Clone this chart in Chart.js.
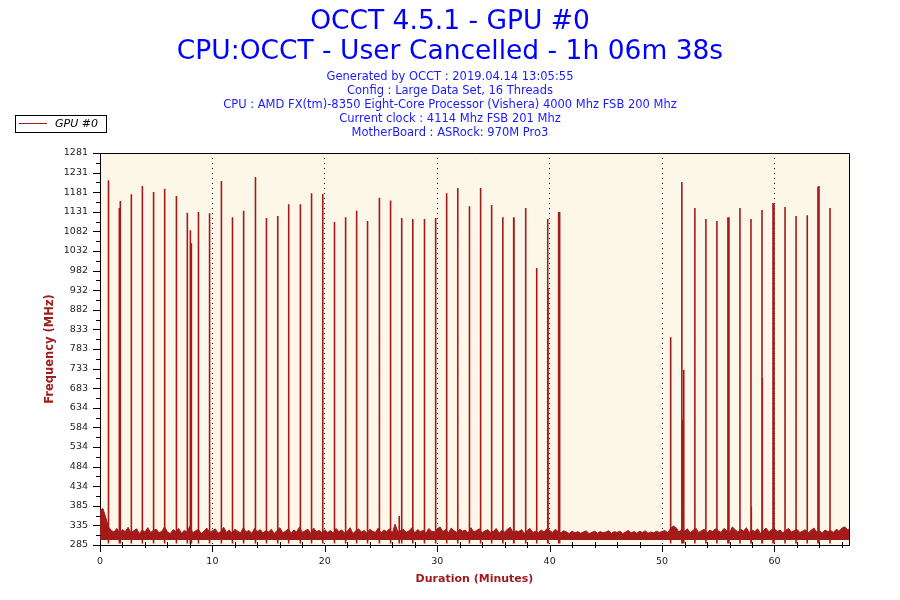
<!DOCTYPE html>
<html>
<head>
<meta charset="utf-8">
<title>OCCT 4.5.1 - GPU #0</title>
<script src="https://cdn.jsdelivr.net/npm/chart.js@4.4.1/dist/chart.umd.min.js"></script>
<style>
    html, body { margin: 0; padding: 0; background: #fff; }
    #wrap { width: 900px; height: 600px; }
</style>
</head>
<body>
<div id="wrap"><canvas id="gpuChart"></canvas></div>
<script>
const titleLines = ['OCCT 4.5.1 - GPU #0', 'CPU:OCCT - User Cancelled - 1h 06m 38s'];
const infoLines = [
    'Generated by OCCT : 2019.04.14 13:05:55',
    'Config : Large Data Set, 16 Threads',
    'CPU : AMD FX(tm)-8350 Eight-Core Processor (Vishera) 4000 Mhz FSB 200 Mhz',
    'Current clock : 4114 Mhz FSB 201 Mhz',
    'MotherBoard : ASRock: 970M Pro3'
];
const seriesName = 'GPU #0';

const durationMinutes = 66.63;
const yMin = 285;
const yMax = 1281;
const yTickLabels = ['285', '335', '385', '434', '484', '534', '584', '634', '683', '733', '783',
    '833', '882', '932', '982', '1032', '1082', '1131', '1181', '1231', '1281'];
const xTickLabels = [0, 10, 20, 30, 40, 50, 60];

// idle clock: the noisy band sits on ~298 MHz, upper edge read every 15 s
const noiseStep = 0.25;
const noiseFloor = 298;
const noiseTop = [
    372, 378, 356, 331, 322, 318, 327, 315, 324, 319, 330, 316, 321, 326, 314, 323, 318, 329, 317, 322,
    325, 316, 320, 331, 318, 314, 324, 319, 327, 315, 322, 318, 333, 316, 321, 325, 314, 320, 328, 317,
    321, 326, 315, 319, 330, 317, 323, 314, 325, 320, 316, 329, 318, 322, 315, 327, 319, 324, 316, 321,
    318, 325, 314, 322, 329, 316, 320, 326, 315, 323, 318, 331, 317, 321, 325, 314, 328, 319, 322, 316,
    324, 317, 322, 315, 327, 319, 323, 316, 320, 329, 314, 321, 326, 318, 322, 315, 325, 320, 317, 328,
    316, 323, 319, 326, 315, 338, 318, 322, 325, 317, 321, 329, 316, 324, 319, 322, 315, 327, 320, 318,
    326, 331, 319, 324, 316, 328, 321, 317, 325, 320, 323, 315, 329, 318, 322, 326, 316, 321, 324, 317,
    320, 327, 315, 322, 318, 325, 330, 316, 321, 319, 324, 315, 322, 327, 317, 320, 316, 323, 318, 326,
    322, 317, 325, 319, 316, 321, 318, 314, 320, 316, 319, 315, 318, 321, 314, 317, 320, 315, 319, 316,
    318, 321, 315, 319, 317, 320, 314, 318, 322, 316, 319, 315, 320, 317, 321, 315, 318, 316, 320, 317,
    319, 322, 316, 327, 333, 329, 318, 324, 320, 326, 316, 322, 328, 317, 321, 325, 315, 323, 319, 326,
    321, 317, 327, 322, 316, 331, 324, 318, 325, 320, 329, 317, 323, 319, 326, 315, 321, 328, 318, 324,
    326, 319, 323, 316, 322, 327, 318, 321, 325, 317, 320, 324, 316, 322, 328, 318, 321, 315, 323, 319,
    322, 317, 325, 320, 328, 331, 324, 326
];

// short jumps to full clock (minute, MHz)
const spikeTimes = [
    0.74, 0.77, 1.72, 1.81, 2.79, 3.77, 4.75, 4.78, 5.73, 5.77, 6.80, 7.77, 8.04, 8.13, 8.76,
    9.73, 9.76, 10.80, 11.77, 11.80, 12.76, 12.79, 13.83, 14.81, 15.79, 15.83, 16.77, 16.80, 17.81,
    17.84, 18.82, 19.80, 19.83, 20.85, 20.87, 21.85, 22.83, 23.80, 24.84, 24.87, 25.85, 26.62, 26.84,
    27.81, 27.84, 28.85, 28.88, 29.86, 30.84, 31.81, 31.84, 32.85, 32.88, 33.86, 34.84, 35.82, 35.85,
    36.80, 36.83, 37.87, 38.85, 39.83, 39.86, 40.80, 40.89, 50.75, 50.78, 51.76, 51.79, 51.93, 52.92,
    53.90, 54.88, 55.86, 55.95, 56.93, 57.91, 57.94, 58.89, 58.92, 59.87, 59.96, 60.94, 61.92, 62.90,
    62.93, 63.87, 63.96, 64.94
];
const spikeValues = [
    1212, 802, 1141, 1159, 1176, 1197, 1182, 935, 1184, 1190, 1172, 1129, 1085, 1052, 1131,
    1128, 1125, 1210, 1118, 1085, 1134, 1037, 1220, 1116, 1121, 412, 1151, 1050, 376,
    1151, 1179, 1177, 713, 738, 1106, 1118, 1134, 1108, 1065, 1167, 1160, 359, 1116,
    1113, 796, 661, 1113, 1116, 1179, 1192, 1080, 679, 1146, 1192, 1149, 1118, 1083,
    1118, 1116, 1141, 989, 1113, 938, 1131, 1131, 608, 813, 1207, 603, 730, 1141,
    1113, 1108, 1118, 1118, 1141, 1113, 382, 1136, 709, 1154, 1151, 1144, 1121, 1123,
    798, 1195, 1197, 1141
];
const spikeDip = 289;
const spikeRest = 305;

const lineColor = '#a31a1a';
const fontFamily = '"DejaVu Sans", Verdana, sans-serif';

const noisePoints = noiseTop.map((v, i) => ({ x: i * noiseStep, y: v }));
const spikePoints = [];
spikeTimes.forEach((t, i) => {
    spikePoints.push({ x: t, y: spikeRest }, { x: t, y: spikeDip }, { x: t, y: spikeValues[i] }, { x: t, y: spikeRest });
});

const plotDecor = {
    id: 'plotDecor',
    beforeDraw(chart) {
        const { ctx, chartArea: a } = chart;
        ctx.save();
        ctx.fillStyle = '#fdf7e9';
        ctx.fillRect(a.left, a.top, a.right - a.left, a.bottom - a.top);
        ctx.restore();
    },
    afterDraw(chart) {
        const { ctx, chartArea: a, scales } = chart;
        ctx.save();
        ctx.strokeStyle = '#000';
        ctx.lineWidth = 1;
        ctx.beginPath();
        ctx.moveTo(a.left, Math.round(a.top) + 0.5);
        ctx.lineTo(Math.round(a.right) + 0.5, Math.round(a.top) + 0.5);
        ctx.lineTo(Math.round(a.right) + 0.5, a.bottom);

        // y ticks: long at every label, short halfway between
        const half = (yMax - yMin) / (yTickLabels.length - 1) / 2;
        for (let k = 0; k <= (yTickLabels.length - 1) * 2; k++) {
            const py = Math.round(scales.y.getPixelForValue(yMin + k * half)) + 0.5;
            const len = k % 2 === 0 ? 7 : 4;
            ctx.moveTo(a.left - len, py);
            ctx.lineTo(a.left + (k % 2 === 0 ? 0 : 1), py);
        }
        // x ticks every 2 minutes, long ones on the labels
        for (let m = 0; m <= durationMinutes; m += 2) {
            const px = Math.round(scales.x.getPixelForValue(m)) + 0.5;
            if (m % 10 === 0) {
                ctx.moveTo(px, a.bottom);
                ctx.lineTo(px, a.bottom + 7);
            } else {
                ctx.moveTo(px, a.bottom - 3);
                ctx.lineTo(px, a.bottom + 3);
            }
        }
        ctx.stroke();

        // legend box
        ctx.strokeRect(15.5, 115.5, 91, 17);
        ctx.strokeStyle = lineColor;
        ctx.beginPath();
        ctx.moveTo(19, 123.5);
        ctx.lineTo(47, 123.5);
        ctx.stroke();
        ctx.fillStyle = '#000';
        ctx.font = 'italic 11px ' + fontFamily;
        ctx.textBaseline = 'middle';
        ctx.fillText(seriesName, 55, 124);
        ctx.restore();
    }
};

const tickFont = { family: fontFamily, size: 9.5 };
const axisTitleFont = { family: fontFamily, size: 11, weight: 'bold' };

new Chart(document.getElementById('gpuChart').getContext('2d'), {
    type: 'line',
    data: {
        datasets: [{
            label: 'noise',
            data: noisePoints,
            borderColor: lineColor,
            backgroundColor: lineColor,
            borderWidth: 1,
            fill: { value: noiseFloor },
            pointRadius: 0,
            tension: 0
        }, {
            label: seriesName,
            data: spikePoints,
            borderColor: lineColor,
            borderWidth: 1.6,
            fill: false,
            pointRadius: 0,
            tension: 0
        }]
    },
    options: {
        responsive: true,
        maintainAspectRatio: false,
        animation: false,
        layout: { padding: 0 },
        plugins: {
            legend: { display: false },
            tooltip: { enabled: false },
            title: {
                display: true,
                text: titleLines,
                color: '#0000ff',
                font: { family: fontFamily, size: 26.5, weight: 'normal', lineHeight: '30px' },
                padding: { top: 7, bottom: 0 }
            },
            subtitle: {
                display: true,
                text: infoLines,
                color: '#1a1aff',
                font: { family: fontFamily, size: 11.5, weight: 'normal', lineHeight: '14px' },
                padding: { top: 3, bottom: 13 }
            }
        },
        scales: {
            x: {
                type: 'linear',
                min: 0,
                max: durationMinutes,
                afterBuildTicks: scale => { scale.ticks = xTickLabels.map(v => ({ value: v })); },
                afterFit: scale => { scale.height = 55; },
                ticks: { autoSkip: false, maxRotation: 0, padding: 11, color: '#222', font: tickFont },
                grid: {
                    drawTicks: false,
                    color: ctx => (ctx.tick && ctx.tick.value > 0 ? '#000' : 'rgba(0,0,0,0)'),
                    lineWidth: 1
                },
                border: { display: true, color: '#000', width: 1, dash: [1, 4] },
                title: {
                    display: true,
                    text: 'Duration (Minutes)',
                    color: '#a01c1c',
                    font: axisTitleFont,
                    padding: { top: 0, bottom: 14 }
                }
            },
            y: {
                min: yMin,
                max: yMax,
                afterBuildTicks: scale => {
                    scale.ticks = yTickLabels.map((l, i) => ({ value: yMin + i * (yMax - yMin) / (yTickLabels.length - 1) }));
                },
                afterFit: scale => { scale.width = 100; },
                ticks: {
                    autoSkip: false,
                    padding: 12,
                    color: '#222',
                    font: tickFont,
                    callback: (v, i) => yTickLabels[i]
                },
                grid: { display: false, drawTicks: false },
                border: { display: true, color: '#000', width: 1 },
                title: {
                    display: true,
                    text: 'Frequency (MHz)',
                    color: '#a01c1c',
                    font: { family: fontFamily, size: 11.5, weight: 'bold' },
                    padding: { top: 43, bottom: 0 }
                }
            },
            // empty strip on the right so the titles stay centred on the page
            rightGap: {
                type: 'linear',
                position: 'right',
                display: true,
                afterFit: scale => { scale.width = 51; },
                ticks: { display: false },
                grid: { display: false, drawTicks: false },
                border: { display: false }
            }
        }
    },
    plugins: [plotDecor]
});
</script>
</body>
</html>
